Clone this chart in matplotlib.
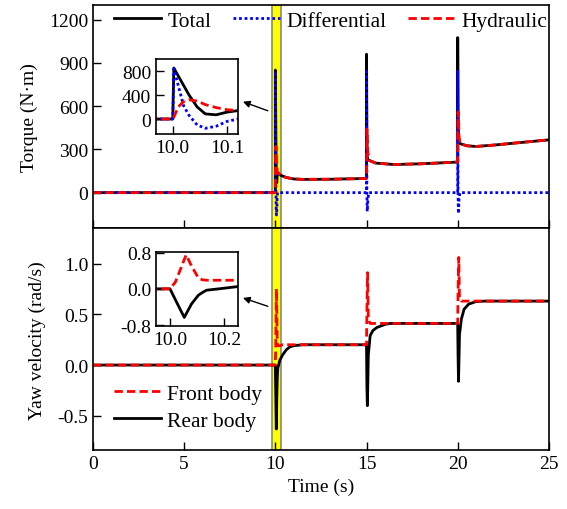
import matplotlib
matplotlib.use("Agg")
import matplotlib.pyplot as plt

plt.rcParams["font.family"] = ["Liberation Serif", "DejaVu Serif"]
plt.rcParams["font.size"] = 14
plt.rcParams["axes.unicode_minus"] = False

# ---- torque data (N·m) ----
t_tq = [0.0, 9.99, 10.0, 10.002, 10.01, 10.02, 10.03, 10.045, 10.06, 10.08, 10.1, 10.12,
        10.3, 10.6, 11.0, 11.5, 13.0, 14.99,
        15.0, 15.002, 15.02, 15.04, 15.07, 15.12, 15.5, 16.5, 18.0, 19.99,
        20.0, 20.002, 20.02, 20.04, 20.07, 20.12, 20.5, 21.0, 22.0, 23.5, 25.0]
total = [0, 0, 0, 850, 720, 560, 400, 200, 85, 70, 115, 140,
         120, 105, 95, 92, 93, 98,
         100, 960, 440, 250, 230, 225, 205, 195, 200, 212,
         214, 1075, 560, 400, 350, 340, 325, 320, 330, 348, 366]
differential = [0, 0, 0, 840, 560, 220, 60, -100, -155, -120, -40, 0,
                0, 0, 0, 0, 0, 0,
                0, 840, 0, -130, -60, 0, 0, 0, 0, 0,
                0, 850, 0, -145, -50, 0, 0, 0, 0, 0, 0]
hydraulic = [0, 0, 0, 30, 200, 290, 320, 300, 240, 190, 155, 140,
             120, 105, 95, 92, 93, 98,
             100, 120, 440, 380, 290, 225, 205, 195, 200, 212,
             214, 225, 560, 545, 400, 340, 325, 320, 330, 348, 366]

# ---- yaw velocity data (rad/s) ----
t_yaw = [0.0, 9.99, 10.0, 10.02, 10.04, 10.053, 10.06, 10.08, 10.105, 10.12, 10.135,
         10.18, 10.25, 10.4, 10.6, 10.8, 11.0, 11.5, 14.99,
         15.0, 15.02, 15.045, 15.06, 15.1, 15.2, 15.35, 15.57, 16.0, 16.3, 19.99,
         20.0, 20.02, 20.045, 20.06, 20.1, 20.2, 20.35, 20.6, 21.0, 21.5, 25.0]
front = [0, 0, 0, 0.15, 0.45, 0.65, 0.75, 0.5, 0.24, 0.2, 0.19,
         0.19, 0.19, 0.2, 0.2, 0.2, 0.2, 0.2, 0.2,
         0.2, 0.5, 0.8, 0.91, 0.45, 0.41, 0.41, 0.41, 0.41, 0.41, 0.41,
         0.41, 0.7, 0.95, 1.06, 0.66, 0.63, 0.63, 0.63, 0.63, 0.63, 0.63]
rear = [0, 0, 0, -0.24, -0.48, -0.63, -0.55, -0.33, -0.14, -0.08, -0.03,
        0.0, 0.05, 0.1, 0.15, 0.18, 0.19, 0.2, 0.2,
        0.2, -0.2, -0.4, -0.3, 0.1, 0.29, 0.34, 0.37, 0.40, 0.41, 0.41,
        0.41, 0.1, -0.16, -0.05, 0.3, 0.45, 0.55, 0.6, 0.625, 0.63, 0.63]

band = (9.84, 10.3)

fig = plt.figure(figsize=(5.67, 5.1), dpi=100)
ax1 = fig.add_axes([0.164, 0.551, 0.804, 0.437])
ax2 = fig.add_axes([0.164, 0.115, 0.804, 0.436], sharex=ax1)


def style(ax):
    ax.tick_params(direction="in", length=6, width=1, labelsize=14)
    for s in ax.spines.values():
        s.set_linewidth(1.2)


def highlight(ax):
    ax.axvspan(*band, facecolor="#ffff00", edgecolor="#888888", lw=1.2, zorder=0)


# ---- top panel: torque ----
highlight(ax1)
ax1.plot(t_tq, total, color="black", lw=2, label="Total")
ax1.plot(t_tq, differential, color="#0000ff", lw=2, ls=(0, (1, 1)), label="Differential")
ax1.plot(t_tq, hydraulic, color="#ff0000", lw=2, ls=(0, (3, 1.5)), label="Hydraulic")
ax1.set_xlim(0, 25)
ax1.set_ylim(-245, 1300)
ax1.set_yticks([0, 300, 600, 900, 1200])
ax1.set_ylabel("Torque (N·m)", labelpad=8)
style(ax1)
ax1.tick_params(labelbottom=False)
ax1.legend(loc="upper left", ncol=3, frameon=False, fontsize=15.5, handlelength=2.2,
           handletextpad=0.28, columnspacing=1.0, borderaxespad=0, borderpad=0,
           bbox_to_anchor=(0.046, 0.974))
ax1.annotate("", xy=(8.08, 637), xytext=(9.73, 561),
             arrowprops=dict(arrowstyle="-|>", color="black", lw=1, mutation_scale=10))

ins1 = fig.add_axes([0.275, 0.7353, 0.1446, 0.147])
ins1.plot(t_tq, total, color="black", lw=2)
ins1.plot(t_tq, differential, color="#0000ff", lw=2, ls=(0, (1, 1)))
ins1.plot(t_tq, hydraulic, color="#ff0000", lw=2, ls=(0, (3, 1.5)))
ins1.set_xlim(9.969, 10.12)
ins1.set_ylim(-250, 1000)
ins1.set_xticks([10.0, 10.1])
ins1.set_yticks([0, 400, 800])
style(ins1)

# ---- bottom panel: yaw velocity ----
highlight(ax2)
ax2.plot(t_yaw, rear, color="black", lw=2, label="Rear body")
ax2.plot(t_yaw, front, color="#ff0000", lw=2, ls=(0, (3, 1.5)), label="Front body")
ax2.set_ylim(-0.84, 1.35)
ax2.set_yticks([-0.5, 0.0, 0.5, 1.0])
ax2.set_xticks([0, 5, 10, 15, 20, 25])
ax2.set_ylabel("Yaw velocity (rad/s)", labelpad=8)
ax2.set_xlabel("Time (s)")
style(ax2)
h, l = ax2.get_legend_handles_labels()
ax2.legend(h[::-1], l[::-1], loc="lower left", frameon=False, fontsize=15.5,
           handlelength=2.2, handletextpad=0.28, labelspacing=0.33,
           borderaxespad=0, borderpad=0, bbox_to_anchor=(0.045, 0.087))
ax2.annotate("", xy=(8.08, 0.67), xytext=(9.73, 0.57),
             arrowprops=dict(arrowstyle="-|>", color="black", lw=1, mutation_scale=10))

ins2 = fig.add_axes([0.275, 0.3588, 0.144, 0.1457])
ins2.plot(t_yaw, rear, color="black", lw=2)
ins2.plot(t_yaw, front, color="#ff0000", lw=2, ls=(0, (3, 1.5)))
ins2.set_xlim(9.948, 10.25)
ins2.set_ylim(-0.82, 0.82)
ins2.set_xticks([10.0, 10.2])
ins2.set_yticks([-0.8, 0.0, 0.8])
style(ins2)

fig.savefig("out.png", dpi=100)
